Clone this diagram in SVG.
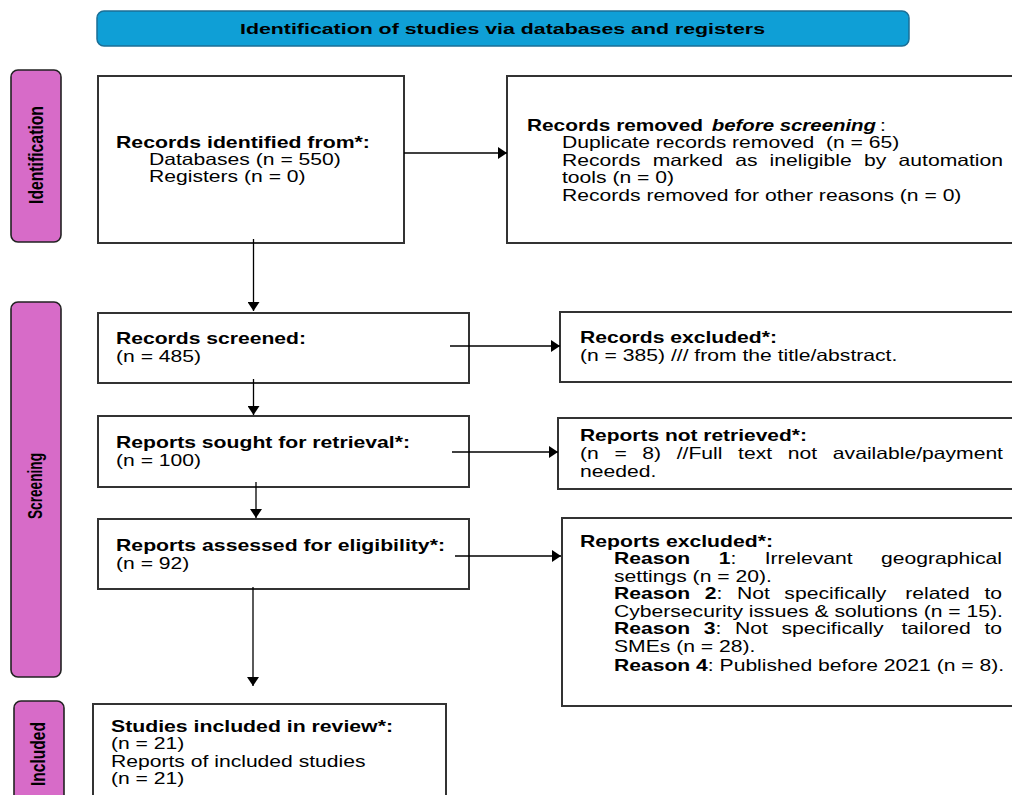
<svg xmlns="http://www.w3.org/2000/svg" width="1012" height="795" viewBox="0 0 1012 795">
<defs>
<style>
.bx{fill:#fff;stroke:#333;stroke-width:2}
.pk{fill:#d76bc8;stroke:#222;stroke-width:1.6}
.hd{fill:#0f9fd6;stroke:#1b6f96;stroke-width:1.5}
.t{font-family:"Liberation Sans",Arial,sans-serif;font-size:16.5px;fill:#000}
.b{font-weight:bold}
.bi{font-weight:bold;font-style:italic}
.side{font-family:"Liberation Sans",Arial,sans-serif;font-size:19.5px;font-weight:bold;fill:#000}
.ht{font-family:"Liberation Sans",Arial,sans-serif;font-size:15px;font-weight:bold;fill:#000}
.cn{stroke:#000;stroke-width:1.3;fill:none;marker-end:url(#ah)}
.pre{white-space:pre}
</style>
<marker id="ah" viewBox="0 0 9 12" markerWidth="9" markerHeight="12" refX="9" refY="6" orient="auto" markerUnits="userSpaceOnUse">
<path d="M0,0 L9,6 L0,12 z" fill="#000"/>
</marker>
</defs>
<rect width="1012" height="795" fill="#fff"/>

<g id="header">
<rect class="hd" x="97" y="11" width="812" height="35" rx="7"/>
<text class="ht" x="502.5" y="34" text-anchor="middle" textLength="525" lengthAdjust="spacingAndGlyphs">Identification of studies via databases and registers</text>
</g>

<g id="label-identification">
<rect class="pk" x="11" y="70" width="50" height="172" rx="7"/>
<text class="side" transform="translate(43,155) rotate(-90)" text-anchor="middle" textLength="98" lengthAdjust="spacingAndGlyphs">Identification</text>
</g>
<g id="label-screening">
<rect class="pk" x="11" y="302" width="50" height="375" rx="7"/>
<text class="side" transform="translate(42,486) rotate(-90)" text-anchor="middle" textLength="66" lengthAdjust="spacingAndGlyphs">Screening</text>
</g>
<g id="label-included">
<rect class="pk" x="14" y="701" width="50" height="130" rx="7"/>
<text class="side" transform="translate(45,754) rotate(-90)" text-anchor="middle" textLength="64" lengthAdjust="spacingAndGlyphs">Included</text>
</g>

<g id="records-identified">
<rect class="bx" x="98" y="76" width="306" height="167"/>
<g transform="scale(1.28,1)">
<text class="t b" x="90.63" y="148" textLength="198.4" lengthAdjust="spacingAndGlyphs">Records identified from*:</text>
<text class="t" x="116.41" y="165">Databases (n = 550)</text>
<text class="t" x="116.41" y="182.5">Registers (n = 0)</text>
</g>
</g>

<g id="records-removed">
<rect class="bx" x="507" y="76" width="530" height="167"/>
<g transform="scale(1.28,1)">
<text class="t b" x="411.72" y="131" textLength="137.5" lengthAdjust="spacingAndGlyphs">Records removed</text>
<text class="t bi" x="556.0" y="131" textLength="128.4" lengthAdjust="spacingAndGlyphs">before screening</text>
<text class="t" x="687.5" y="131">:</text>
<text class="t pre" x="439.06" y="148">Duplicate records removed  (n = 65)</text>
<text class="t" y="166"><tspan x="439.06">Records</tspan><tspan x="509.9">marked</tspan><tspan x="574.4">as</tspan><tspan x="601.25">ineligible</tspan><tspan x="675.0">by</tspan></text>
<text class="t" x="783.59" y="166" text-anchor="end">automation</text>
<text class="t" x="439.06" y="183">tools (n = 0)</text>
<text class="t" x="439.06" y="201">Records removed for other reasons (n = 0)</text>
</g>
</g>

<g id="records-screened">
<rect class="bx" x="98" y="313" width="371" height="70"/>
<g transform="scale(1.28,1)">
<text class="t b" x="90.63" y="344" textLength="148.4" lengthAdjust="spacingAndGlyphs">Records screened:</text>
<text class="t" x="90.63" y="362">(n = 485)</text>
</g>
</g>

<g id="records-excluded">
<rect class="bx" x="560" y="312" width="470" height="70"/>
<g transform="scale(1.28,1)">
<text class="t b" x="453.13" y="343" textLength="153.9" lengthAdjust="spacingAndGlyphs">Records excluded*:</text>
<text class="t" x="453.13" y="361">(n = 385) /// from the title/abstract.</text>
</g>
</g>

<g id="reports-sought">
<rect class="bx" x="98" y="416" width="371" height="71"/>
<g transform="scale(1.28,1)">
<text class="t b" x="90.63" y="448" textLength="229.7" lengthAdjust="spacingAndGlyphs">Reports sought for retrieval*:</text>
<text class="t" x="90.63" y="466">(n = 100)</text>
</g>
</g>

<g id="reports-not-retrieved">
<rect class="bx" x="558" y="418" width="470" height="71"/>
<g transform="scale(1.28,1)">
<text class="t b" x="453.13" y="441" textLength="177.3" lengthAdjust="spacingAndGlyphs">Reports not retrieved*:</text>
<text class="t" y="459"><tspan x="453.13">(n</tspan><tspan x="480.0">=</tspan><tspan x="501.8">8)</tspan><tspan x="528.7">//Full</tspan><tspan x="576.6">text</tspan><tspan x="615.4">not</tspan></text>
<text class="t" x="783.59" y="459" text-anchor="end">available/payment</text>
<text class="t" x="453.13" y="477">needed.</text>
</g>
</g>

<g id="reports-assessed">
<rect class="bx" x="98" y="519" width="371" height="70"/>
<g transform="scale(1.28,1)">
<text class="t b" x="90.63" y="551" textLength="257.0" lengthAdjust="spacingAndGlyphs">Reports assessed for eligibility*:</text>
<text class="t" x="90.63" y="569">(n = 92)</text>
</g>
</g>

<g id="reports-excluded">
<rect class="bx" x="562" y="518" width="470" height="188"/>
<g transform="scale(1.28,1)">
<text class="t b" x="453.13" y="547" textLength="150.8" lengthAdjust="spacingAndGlyphs">Reports excluded*:</text>
<text class="t" y="564"><tspan class="b" x="479.69">Reason</tspan><tspan class="b" x="561.5">1</tspan><tspan>:</tspan><tspan x="597.4">Irrelevant</tspan></text>
<text class="t" x="782.81" y="564" text-anchor="end">geographical</text>
<text class="t" x="479.69" y="582">settings (n = 20).</text>
<text class="t" y="599"><tspan class="b" x="479.69">Reason</tspan><tspan class="b" x="550.6">2</tspan><tspan>:</tspan><tspan x="575.8">Not</tspan><tspan x="612.8">specifically</tspan><tspan x="707.2">related</tspan></text>
<text class="t" x="782.81" y="599" text-anchor="end">to</text>
<text class="t" x="479.69" y="617">Cybersecurity issues &amp; solutions (n = 15).</text>
<text class="t" y="634"><tspan class="b" x="479.69">Reason</tspan><tspan class="b" x="549.9">3</tspan><tspan>:</tspan><tspan x="574.3">Not</tspan><tspan x="610.6">specifically</tspan><tspan x="704.3">tailored</tspan></text>
<text class="t" x="782.81" y="634" text-anchor="end">to</text>
<text class="t" x="479.69" y="652">SMEs (n = 28).</text>
<text class="t" x="479.69" y="671"><tspan class="b">Reason 4</tspan>: Published before 2021 (n = 8).</text>
</g>
</g>

<g id="studies-included">
<rect class="bx" x="93" y="704" width="353" height="130"/>
<g transform="scale(1.28,1)">
<text class="t b" x="86.72" y="732" textLength="220.3" lengthAdjust="spacingAndGlyphs">Studies included in review*:</text>
<text class="t" x="86.72" y="749.5">(n = 21)</text>
<text class="t" x="86.72" y="767">Reports of included studies</text>
<text class="t" x="86.72" y="784.5">(n = 21)</text>
</g>
</g>

<g id="connectors">
<line class="cn" x1="404" y1="153" x2="507" y2="153"/>
<line class="cn" x1="253.5" y1="239" x2="253.5" y2="311"/>
<line class="cn" x1="450" y1="346" x2="560" y2="346"/>
<line class="cn" x1="253.5" y1="379" x2="253.5" y2="415"/>
<line class="cn" x1="452" y1="452" x2="558" y2="452"/>
<line class="cn" x1="256" y1="482" x2="256" y2="518"/>
<line class="cn" x1="455" y1="556" x2="561" y2="556"/>
<line class="cn" x1="253" y1="587" x2="253" y2="686"/>
</g>
</svg>
